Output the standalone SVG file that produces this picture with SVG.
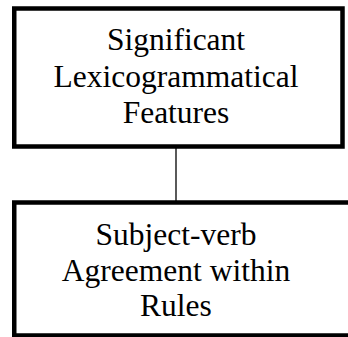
<svg xmlns="http://www.w3.org/2000/svg" width="348" height="337" viewBox="0 0 348 337">
<style>
.box{fill:#fff;stroke:#000;stroke-width:4.5}
.lbl{font-size:31.5px;fill:#000;text-anchor:middle}
.conn{stroke:#000;stroke-width:1.3;fill:none}
</style>
<rect width="348" height="337" fill="#fff"/>
<g id="connectors">
<line class="conn" x1="176" y1="148" x2="176" y2="201"/>
</g>
<g id="node-features" font-family="Liberation Serif, Times New Roman, DejaVu Serif, serif">
<rect class="box" x="14.25" y="8.5" width="328.25" height="138"/>
<text class="lbl" x="176" y="50">Significant</text>
<text class="lbl" x="176" y="86.5">Lexicogrammatical</text>
<text class="lbl" x="176" y="123">Features</text>
</g>
<g id="node-agreement" font-family="Liberation Serif, Times New Roman, DejaVu Serif, serif">
<rect class="box" x="14.25" y="202.5" width="340" height="133"/>
<text class="lbl" x="176" y="245">Subject-verb</text>
<text class="lbl" x="176" y="280.5">Agreement within</text>
<text class="lbl" x="176" y="316">Rules</text>
</g>
</svg>
